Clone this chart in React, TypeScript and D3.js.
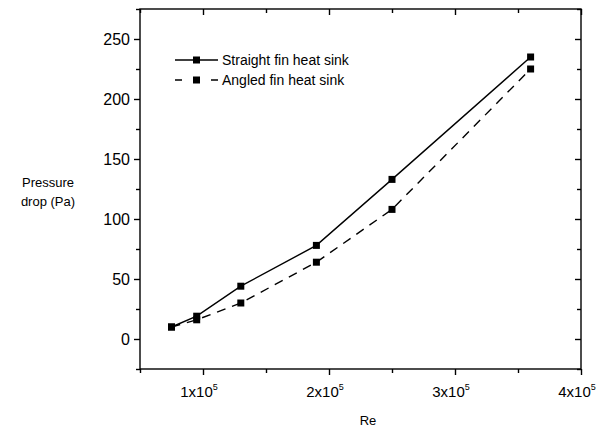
import * as d3 from 'd3'
import { useEffect, useRef } from 'react'

const reValues = [75000, 95000, 130000, 190000, 250000, 360000]
const straightDrop = [10, 19, 44, 78, 133, 235]
const angledDrop = [10, 16, 30, 64, 108, 225]
const seriesNames = ['Straight fin heat sink', 'Angled fin heat sink']
const xTicks = [100000, 200000, 300000, 400000]
const yTicks = [0, 50, 100, 150, 200, 250]

export default function App() {
    const chart = useRef<SVGSVGElement>(null)

    useEffect(() => {
        const width = 614
        const height = 430
        const margin = { top: 9, right: 33, bottom: 61, left: 140 }
        const font = 'Arial, "Liberation Sans", sans-serif'

        const svg = d3.select(chart.current)
        svg.selectAll('*').remove()

        const x = d3.scaleLinear()
            .domain([50000, 400000])
            .range([margin.left, width - margin.right])
        const y = d3.scaleLinear()
            .domain([-25, 275])
            .range([height - margin.bottom, margin.top])

        const minorX = d3.range(50000, 400001, 50000).filter(v => !xTicks.includes(v))
        const minorY = d3.range(-25, 276, 25).filter(v => !yTicks.includes(v))

        const styleTicks = (g: d3.Selection<SVGGElement, unknown, null, undefined>) => {
            g.selectAll('line').attr('stroke', '#000').attr('stroke-width', 1.4)
            g.select('.domain').remove()
        }

        // bottom axis, ticks outward
        svg.append('g')
            .attr('transform', `translate(0,${y(-25)})`)
            .call(d3.axisBottom(x).tickValues(minorX).tickSize(4).tickFormat(() => '').tickSizeOuter(0))
            .call(styleTicks)
        svg.append('g')
            .attr('transform', `translate(0,${y(-25)})`)
            .call(d3.axisBottom(x).tickValues(xTicks).tickSize(6).tickSizeOuter(0).tickFormat(() => ''))
            .call(styleTicks)

        // x labels with superscripts
        svg.append('g')
            .selectAll('text')
            .data(xTicks)
            .join('text')
            .attr('x', d => x(d) - 4)
            .attr('y', y(-25) + 28)
            .attr('text-anchor', 'middle')
            .attr('font-family', font)
            .attr('font-size', 15)
            .text(d => `${d / 100000}x10`)
            .append('tspan')
            .attr('dy', -7)
            .attr('font-size', 9)
            .text('5')

        // top axis, ticks inward
        svg.append('g')
            .attr('transform', `translate(0,${y(275)})`)
            .call(d3.axisBottom(x).tickValues(minorX).tickSize(4).tickFormat(() => '').tickSizeOuter(0))
            .call(styleTicks)
        svg.append('g')
            .attr('transform', `translate(0,${y(275)})`)
            .call(d3.axisBottom(x).tickValues(xTicks).tickSize(6).tickFormat(() => '').tickSizeOuter(0))
            .call(styleTicks)

        // left axis, ticks outward
        svg.append('g')
            .attr('transform', `translate(${x(50000)},0)`)
            .call(d3.axisLeft(y).tickValues(minorY).tickSize(4).tickFormat(() => '').tickSizeOuter(0))
            .call(styleTicks)
        const leftMajor = svg.append('g')
            .attr('transform', `translate(${x(50000)},0)`)
            .call(d3.axisLeft(y).tickValues(yTicks).tickSize(6).tickPadding(4).tickSizeOuter(0))
            .call(styleTicks)
        leftMajor.selectAll('text')
            .attr('font-family', font)
            .attr('font-size', 16)
            .attr('fill', '#000')

        // right axis, ticks inward
        svg.append('g')
            .attr('transform', `translate(${x(400000)},0)`)
            .call(d3.axisLeft(y).tickValues(minorY).tickSize(4).tickFormat(() => '').tickSizeOuter(0))
            .call(styleTicks)
        svg.append('g')
            .attr('transform', `translate(${x(400000)},0)`)
            .call(d3.axisLeft(y).tickValues(yTicks).tickSize(6).tickFormat(() => '').tickSizeOuter(0))
            .call(styleTicks)

        // frame
        svg.append('rect')
            .attr('x', x(50000))
            .attr('y', y(275))
            .attr('width', x(400000) - x(50000))
            .attr('height', y(-25) - y(275))
            .attr('fill', 'none')
            .attr('stroke', '#000')
            .attr('stroke-width', 1.4)

        const line = d3.line<number>()
            .x((d, i) => x(reValues[i]))
            .y(d => y(d))

        const series = [
            { name: seriesNames[0], values: straightDrop, dash: null },
            { name: seriesNames[1], values: angledDrop, dash: '9,7' },
        ]

        series.forEach(s => {
            svg.append('path')
                .datum(s.values)
                .attr('d', line)
                .attr('fill', 'none')
                .attr('stroke', '#000')
                .attr('stroke-width', 1.4)
                .attr('stroke-dasharray', s.dash)
            svg.append('g')
                .selectAll('rect')
                .data(s.values)
                .join('rect')
                .attr('x', (d, i) => x(reValues[i]) - 3.5)
                .attr('y', d => y(d) - 3.5)
                .attr('width', 7)
                .attr('height', 7)
                .attr('fill', '#000')
        })

        // legend
        const legend = svg.append('g')
        series.forEach((s, i) => {
            const ly = 60 + i * 20
            legend.append('line')
                .attr('x1', 175).attr('x2', 218)
                .attr('y1', ly).attr('y2', ly)
                .attr('stroke', '#000')
                .attr('stroke-width', 1.4)
                .attr('stroke-dasharray', s.dash ? '7,29,7' : null)
            legend.append('rect')
                .attr('x', 193).attr('y', ly - 3.5)
                .attr('width', 7).attr('height', 7)
                .attr('fill', '#000')
            legend.append('text')
                .attr('x', 222).attr('y', ly + 5)
                .attr('font-family', font)
                .attr('font-size', 14)
                .text(s.name)
        })

        // axis titles
        svg.append('text')
            .attr('x', 368).attr('y', 425)
            .attr('text-anchor', 'middle')
            .attr('font-family', font)
            .attr('font-size', 13)
            .text('Re')
        const yTitle = svg.append('text')
            .attr('text-anchor', 'middle')
            .attr('font-family', font)
            .attr('font-size', 13)
        yTitle.append('tspan').attr('x', 48).attr('y', 187).text('Pressure')
        yTitle.append('tspan').attr('x', 48).attr('y', 206).text('drop (Pa)')
    })

    return (
        <svg ref={chart} width={614} height={430}
            style={{ position: 'absolute', left: 0, top: 0, background: '#fff' }} />
    )
}
